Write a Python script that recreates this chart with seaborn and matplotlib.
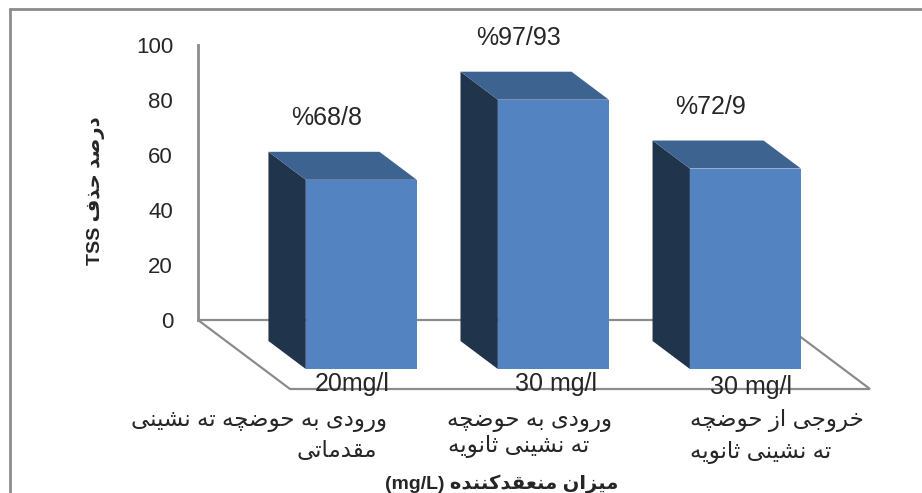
import numpy as np
import pandas as pd
import matplotlib
matplotlib.use("Agg")
import matplotlib.pyplot as plt
from matplotlib.patches import Polygon
from matplotlib.lines import Line2D
import seaborn as sns

# -------------------- data --------------------
stages = ["stage 1", "stage 2", "stage 3"]
doses = ["20mg/l", "30 mg/l", "30 mg/l"]
removal = [68.8, 97.93, 72.9]
value_labels = ["%68/8", "%97/93", "%72/9"]
stage_lines = [
    ["ورودی به حوضچه ته نشینی", "مقدماتی"],
    ["ورودی به حوضچه", "ته نشینی ثانویه"],
    ["خروجی از حوضچه", "ته نشینی ثانویه"],
]
y_ticks = [0, 20, 40, 60, 80, 100]
y_title = "درصد حذف"
x_title = "میزان منعقدکننده"

# -------------------- persian shaping (matplotlib has no bidi) --------------------
# first presentation form of each letter: isolated, final, initial, medial follow
FORMS = {
    "ا": 0xFE8D, "ب": 0xFE8F, "پ": 0xFB56, "ت": 0xFE95, "ث": 0xFE99, "ج": 0xFE9D,
    "چ": 0xFB7A, "ح": 0xFEA1, "خ": 0xFEA5, "د": 0xFEA9, "ذ": 0xFEAB, "ر": 0xFEAD,
    "ز": 0xFEAF, "ژ": 0xFB8A, "س": 0xFEB1, "ش": 0xFEB5, "ص": 0xFEB9, "ض": 0xFEBD,
    "ط": 0xFEC1, "ظ": 0xFEC5, "ع": 0xFEC9, "غ": 0xFECD, "ف": 0xFED1, "ق": 0xFED5,
    "ک": 0xFB8E, "گ": 0xFB92, "ل": 0xFEDD, "م": 0xFEE1, "ن": 0xFEE5, "ه": 0xFEE9,
    "و": 0xFEED, "ی": 0xFBFC,
}
RIGHT_ONLY = set("ادذرزژو")


def fa(text):
    out = []
    for i, ch in enumerate(text):
        if ch not in FORMS:
            out.append(ch)
            continue
        prev = text[i - 1] if i > 0 else ""
        nxt = text[i + 1] if i + 1 < len(text) else ""
        form = 0
        if prev in FORMS and prev not in RIGHT_ONLY:
            form += 1
        if nxt in FORMS and ch not in RIGHT_ONLY:
            form += 2
        out.append(chr(FORMS[ch] + form))
    return "".join(out)[::-1]


# -------------------- style --------------------
sns.set_style("white")
plt.rcParams["font.family"] = ["Liberation Sans", "DejaVu Sans"]

FRONT = "#5383c1"
SIDE = "#20344b"
TOP = "#3d6390"
GRID = "#8c8c8c"

W, H = 922, 493
fig = plt.figure(figsize=(W / 100, H / 100), dpi=100)
# axes = back wall of the 3d chart
ax = fig.add_axes([198 / W, 1 - 320 / H, 580 / W, 275 / H])

df = pd.DataFrame({"stage": stages, "removal": removal})
sns.barplot(data=df, x="stage", y="removal", color=FRONT, saturation=1,
            width=0.578, errorbar=None, ax=ax, zorder=3)
ax.set_xlim(-0.51, 2.51)
ax.set_ylim(0, 100)

DX = 4 / 3  # px sideways per px of depth


def depth(x, y, d):
    px, py = ax.transData.transform((x, y))
    return ax.transData.inverted().transform((px + d * DX, py - d))


# floor outline
x0, x1 = ax.get_xlim()
floor = [depth(x0, 0, 0), depth(x1, 0, 0), depth(x1, 0, 69), depth(x0, 0, 69)]
ax.add_patch(Polygon(floor, closed=True, fill=False, edgecolor=GRID, lw=1.6,
                     zorder=1, clip_on=False))

# extrude the bars
for p in ax.patches[:len(removal)]:
    bx, bw, bh = p.get_x(), p.get_width(), p.get_height()
    side = [depth(bx, 0, 49), depth(bx, bh, 49), depth(bx, bh, 21), depth(bx, 0, 21)]
    top = [depth(bx, bh, 49), depth(bx + bw, bh, 49), depth(bx + bw, bh, 21), depth(bx, bh, 21)]
    ax.add_patch(Polygon(side, closed=True, facecolor=SIDE, edgecolor="none", zorder=2, clip_on=False))
    ax.add_patch(Polygon(top, closed=True, facecolor=TOP, edgecolor="none", zorder=2, clip_on=False))
    p.set_xy(depth(bx, 0, 49))
    p.set_edgecolor("none")
    p.set_clip_on(False)

for i, (v, lbl) in enumerate(zip(removal, value_labels)):
    ax.annotate(lbl, (i, v), xytext=(22, 9), textcoords="offset points",
                ha="center", va="center", fontsize=18)

sns.despine(ax=ax, bottom=True)
ax.spines["left"].set_color(GRID)
ax.spines["left"].set_linewidth(2)
ax.set_yticks(y_ticks)
ax.tick_params(axis="y", length=0, pad=18, labelsize=16)
ax.set_xticks([])
ax.set_xlabel("(mg/L) " + fa(x_title), fontsize=14, fontweight="bold")
ax.xaxis.set_label_coords((502 - 198) / 580, (320 - 474) / 275)
ax.set_ylabel("TSS " + fa(y_title), fontsize=14, fontweight="bold")
ax.yaxis.set_label_coords((105 - 198) / 580, (320 - 191) / 275)


def fpos(x, y):
    return x / W, 1 - y / H


# dose labels on the floor edge
dose_pos = [(352, 391), (556, 391), (751, 394)]
for d, (px, py) in zip(doses, dose_pos):
    fig.text(*fpos(px, py), d, ha="center", va="baseline", fontsize=18)

# stage names (two lines each)
line_pos = [
    [(387, 421, "right"), (377, 450, "right")],
    [(447, 420, "left"), (448, 447, "left")],
    [(690, 420, "left"), (690, 453, "left")],
]
for lines, poss in zip(stage_lines, line_pos):
    for txt, (px, py, ha) in zip(lines, poss):
        fig.text(*fpos(px, py), fa(txt), ha=ha, va="center", fontsize=16.5)

# chart border (top and left visible)
fig.add_artist(Line2D([10 / W, 10 / W], [0, 1 - 9 / H], color=GRID, lw=2, transform=fig.transFigure))
fig.add_artist(Line2D([10 / W, 1], [1 - 9 / H, 1 - 9 / H], color=GRID, lw=2, transform=fig.transFigure))

fig.savefig("out.png", dpi=100)
